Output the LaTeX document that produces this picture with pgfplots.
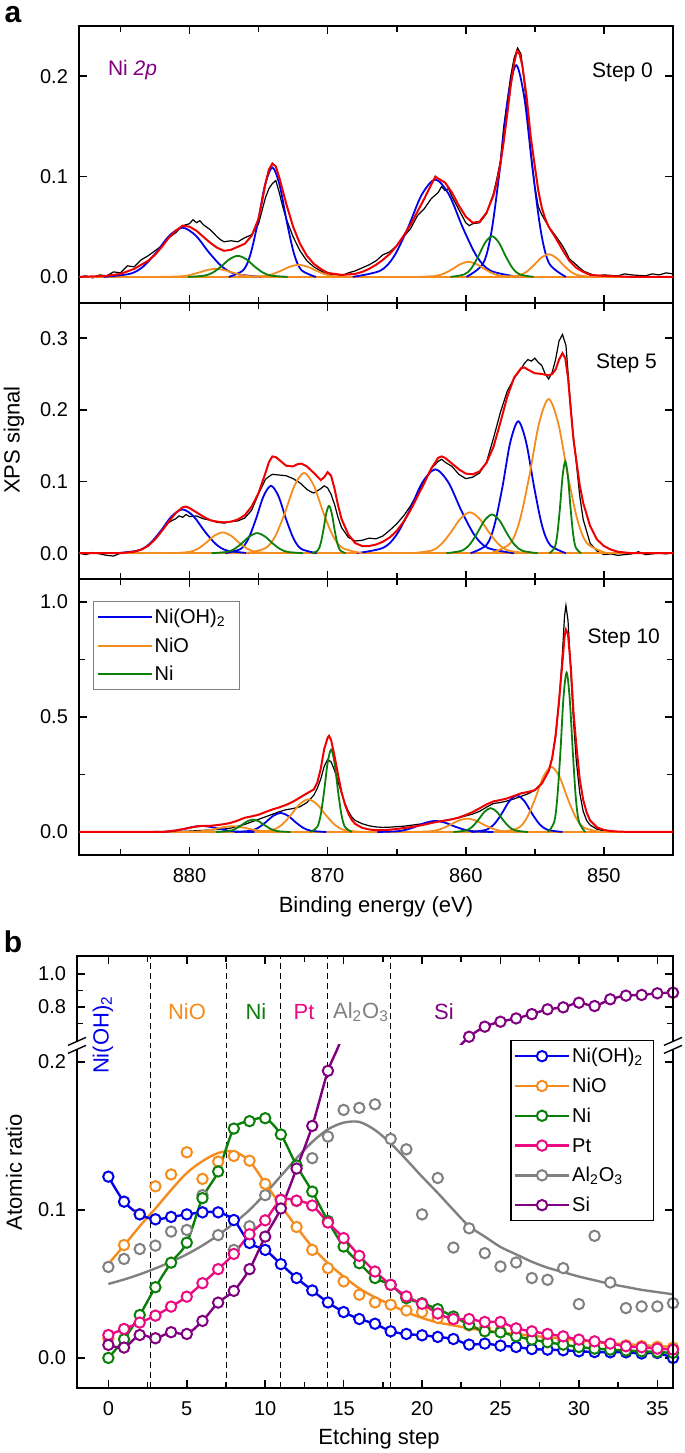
\documentclass[border=0pt]{standalone}
\usepackage{fontspec}
\setmainfont{Liberation Sans}
\usepackage{pgfplots}
\usepackage{pgfplotstable}
\pgfplotsset{compat=1.18}

\definecolor{cblue}{RGB}{0,0,235}
\definecolor{corange}{RGB}{245,140,30}
\definecolor{cgreen}{RGB}{10,128,10}
\definecolor{cpink}{RGB}{235,10,130}
\definecolor{cgray}{RGB}{128,128,128}
\definecolor{cpurple}{RGB}{128,0,128}
\definecolor{cred}{RGB}{240,0,0}

\pgfplotsset{
  base/.style={scale only axis, clip=true,
    axis line style={line width=0.8pt},
    every tick/.style={black, line width=0.8pt},
    tick align=inside, major tick length=4pt, minor tick length=3pt,
    tick label style={font=\fontsize{10}{12}\selectfont},
    /pgf/number format/assume math mode=true,
    yticklabel style={xshift=-2pt, /pgf/number format/.cd, fixed, fixed zerofill, precision=1},
    xticklabel style={yshift=-3.4pt}},
  xps/.style={base, width=297pt, height=138pt, x dir=reverse,
    xmin=845, xmax=888, xtick={850,860,870,880}, minor xtick={845,855,865,875,885}},
  bl/.style={cblue, smooth, line width=0.9pt, forget plot},
  or/.style={corange, smooth, line width=0.9pt, forget plot},
  gr/.style={cgreen, smooth, line width=0.9pt, forget plot},
  fitred/.style={cred, line width=1pt, forget plot},
  raw/.style={black, line width=0.6pt, forget plot},
  bpan/.style={base, width=298pt, xmin=-2, xmax=36, xtick={0,5,...,35},
    minor xtick={2.5,7.5,...,32.5}, axis line style={draw=none}},
  ser/.style={#1, smooth, line width=1.2pt, mark=*, mark size=2.6pt,
    mark options={fill=white, line width=1pt, solid}},
  pts/.style={#1, only marks, mark=*, mark size=2.6pt,
    mark options={fill=white, line width=1pt, solid}},
  vl/.style={black, line width=0.5pt, dash pattern=on 3pt off 2pt, forget plot},
}

% Panel b data
\pgfplotstableread{
step nioh nio ni pt al si
0 0.1225 0.013 0.0 0.0155 0.0615 0.0088
1 0.1056 0.0763 0.0126 0.0196 0.0669 0.007
2 0.097 0.0973 0.029 0.0239 0.0736 0.0155
3 0.0937 0.116 0.0478 0.0286 0.0759 0.0133
4 0.0953 0.124 0.0644 0.0347 0.0854 0.0174
5 0.097 0.139 0.0779 0.0414 0.0865 0.0162
6 0.0984 0.121 0.108 0.0505 0.110 0.025
7 0.0984 0.1327 0.126 0.060 0.083 0.0374
8 0.0932 0.1365 0.155 0.0703 0.073 0.0453
9 0.0777 0.1333 0.160 0.0836 0.089 0.060
10 0.073 0.1176 0.162 0.093 0.110 0.082
11 0.0634 0.104 0.151 0.1068 0.107 0.101
12 0.054 0.0885 0.13 0.1063 0.106 0.128
13 0.0456 0.073 0.1124 0.103 0.135 0.1568
14 0.0375 0.0607 0.0925 0.0915 0.1496 0.194
15 0.031 0.0517 0.0753 0.081 0.1676 0.222
16 0.0263 0.0427 0.064 0.069 0.169 0.29
17 0.0231 0.0375 0.054 0.0584 0.1714 0.35
18 0.018 0.036 0.0494 0.0494 0.148 0.40
19 0.0162 0.0321 0.0404 0.0416 0.141 0.44
20 0.0153 0.031 0.037 0.0366 0.097 0.47
21 0.0142 0.027 0.033 0.030 0.1216 0.50
22 0.0128 0.026 0.028 0.0263 0.0746 0.53
23 0.009 0.022 0.0225 0.0263 0.0876 0.62
24 0.0097 0.020 0.018 0.0243 0.0708 0.681
25 0.0083 0.018 0.0173 0.0243 0.0618 0.711
26 0.0074 0.016 0.0146 0.020 0.0645 0.731
27 0.006 0.015 0.0124 0.018 0.054 0.757
28 0.0056 0.013 0.0106 0.0162 0.0528 0.786
29 0.0052 0.012 0.009 0.0146 0.0607 0.798
30 0.0045 0.011 0.0074 0.0124 0.0364 0.826
31 0.004 0.010 0.0063 0.0112 0.0825 0.806
32 0.0038 0.009 0.0056 0.0097 0.051 0.847
33 0.0038 0.0085 0.005 0.0079 0.0337 0.869
34 0.003 0.008 0.0045 0.0072 0.0348 0.873
35 0.0034 0.0075 0.004 0.0063 0.0348 0.883
36 0.0 0.007 0.0034 0.0056 0.037 0.887
}\dataB

\pgfplotstableread{
step niofit alfit
0 0.0635 0.050
1 0.076 0.053
2 0.089 0.0565
3 0.101 0.0605
4 0.1135 0.065
5 0.125 0.070
6 0.133 0.076
7 0.1385 0.083
8 0.1395 0.091
9 0.133 0.100
10 0.118 0.111
11 0.103 0.123
12 0.0885 0.135
13 0.075 0.146
14 0.064 0.1545
15 0.055 0.159
16 0.047 0.1595
17 0.041 0.154
18 0.036 0.145
19 0.031 0.134
20 0.027 0.1225
21 0.024 0.1115
22 0.022 0.100
23 0.020 0.089
24 0.0185 0.082
25 0.0172 0.075
26 0.016 0.070
27 0.015 0.065
28 0.014 0.061
29 0.013 0.058
30 0.012 0.055
31 0.011 0.0525
32 0.010 0.050
33 0.0093 0.048
34 0.0086 0.046
35 0.008 0.0445
36 0.0075 0.043
}\fitB

\begin{document}
\begin{tikzpicture}
\useasboundingbox (0,0) rectangle (342.5pt,726.5pt);

% ---------- Step 0 ----------
\begin{axis}[xps, at={(39.5pt,575pt)}, anchor=south west, height=138.5pt,
  ymin=-0.026, ymax=0.25, ytick={0,0.1,0.2}, xticklabels={}]
\addplot[raw] coordinates {(888,0.000) (887.5,0.001) (887,-0.001) (886.5,0.002) (886,0.001) (885.5,0.005) (885,0.004) (884.5,0.011) (884,0.010) (883.5,0.017) (883,0.021) (882.5,0.026) (882,0.031) (881.5,0.039) (881,0.044) (880.5,0.051) (880,0.053) (879.75,0.057) (879.5,0.054) (879.25,0.056) (879,0.052) (878.5,0.047) (878,0.040) (877.75,0.037) (877.5,0.035) (877,0.036) (876.5,0.035) (876,0.039) (875.5,0.042) (875,0.053) (874.75,0.066) (874.5,0.079) (874.25,0.088) (874,0.093) (873.75,0.096) (873.5,0.084) (873.25,0.070) (873,0.058) (872.5,0.040) (872,0.026) (871.5,0.016) (871,0.010) (870.5,0.006) (870,0.002) (869.5,0.003) (869,0.001) (868.5,0.004) (868,0.006) (867.5,0.009) (867,0.012) (866.5,0.016) (866,0.022) (865.5,0.025) (865,0.031) (864.5,0.040) (864,0.048) (863.5,0.061) (863,0.068) (862.5,0.078) (862,0.084) (861.75,0.090) (861.5,0.086) (861.25,0.088) (861,0.080) (860.5,0.067) (860,0.054) (859.75,0.051) (859.5,0.053) (859,0.054) (858.5,0.063) (858,0.083) (857.75,0.098) (857.5,0.115) (857.25,0.150) (857,0.175) (856.75,0.200) (856.5,0.218) (856.25,0.228) (856,0.222) (855.75,0.192) (855.5,0.155) (855.25,0.120) (855,0.090) (854.75,0.070) (854.5,0.062) (854,0.050) (853.5,0.041) (853,0.031) (852.75,0.025) (852.5,0.018) (852,0.012) (851.5,0.006) (851,0.003) (850.5,0.001) (850,0.002) (849,0.001) (848.5,0.003) (848,0.002) (847,0.001) (846.5,0.003) (846,0.002) (845.5,0.004) (845,0.003)};
\addplot[bl] coordinates {(845,0) (888,0)};
\addplot[gr] coordinates {(845,0) (888,0)};
\addplot[or] coordinates {(845,0) (888,0)};
\addplot[bl] coordinates {(874.8,0) (876.7,0.0031) (877.65,0.0103) (878.6,0.0245) (879.55,0.0412) (880.5,0.049) (881.45,0.0412) (882.4,0.0245) (883.35,0.0103) (884.3,0.0031) (886.2,0)};
\addplot[bl] coordinates {(870.85,0) (871.9,0.0068) (872.43,0.0229) (872.95,0.0545) (873.48,0.0917) (874,0.109) (874.53,0.0917) (875.05,0.0545) (875.58,0.0229) (876.1,0.0068) (877.15,0)};
\addplot[bl] coordinates {(856.2,0) (858.2,0.0061) (859.2,0.0204) (860.2,0.0485) (861.2,0.0816) (862.2,0.097) (863.2,0.0816) (864.2,0.0485) (865.2,0.0204) (866.2,0.0061) (868.2,0)};
\addplot[bl] coordinates {(852.75,0) (853.95,0.0132) (854.55,0.0443) (855.15,0.1055) (855.75,0.1775) (856.35,0.211) (856.95,0.1775) (857.55,0.1055) (858.15,0.0443) (858.75,0.0132) (859.95,0)};
\addplot[or] coordinates {(874.2,0) (875.5,0.0005) (876.15,0.0017) (876.8,0.004) (877.45,0.0067) (878.1,0.008) (878.75,0.0067) (879.4,0.004) (880.05,0.0017) (880.7,0.0005) (882,0)};
\addplot[or] coordinates {(868.2,0) (869.5,0.0008) (870.15,0.0025) (870.8,0.006) (871.45,0.0101) (872.1,0.012) (872.75,0.0101) (873.4,0.006) (874.05,0.0025) (874.7,0.0008) (876,0)};
\addplot[or] coordinates {(856.2,0) (857.4,0.0009) (858,0.0032) (858.6,0.0075) (859.2,0.0126) (859.8,0.015) (860.4,0.0126) (861,0.0075) (861.6,0.0032) (862.2,0.0009) (863.4,0)};
\addplot[or] coordinates {(850.7,0) (851.8,0.0014) (852.35,0.0047) (852.9,0.0113) (853.45,0.019) (854,0.0226) (854.55,0.019) (855.1,0.0113) (855.65,0.0047) (856.2,0.0014) (857.3,0)};
\addplot[gr] coordinates {(872.9,0) (874.1,0.0013) (874.7,0.0044) (875.3,0.0105) (875.9,0.0177) (876.5,0.021) (877.1,0.0177) (877.7,0.0105) (878.3,0.0044) (878.9,0.0013) (880.1,0)};
\addplot[gr] coordinates {(855.1,0) (856.1,0.0025) (856.6,0.0085) (857.1,0.0203) (857.6,0.0341) (858.1,0.0405) (858.6,0.0341) (859.1,0.0203) (859.6,0.0085) (860.1,0.0025) (861.1,0)};
\addplot[fitred] coordinates {(888,0) (886,0.001) (885,0.003) (884,0.008) (883,0.016) (882.5,0.022) (882,0.030) (881.5,0.039) (881,0.046) (880.5,0.051) (880,0.050) (879.5,0.046) (879,0.040) (878.5,0.034) (878,0.029) (877.5,0.026) (877,0.027) (876.5,0.030) (876,0.033) (875.5,0.041) (875,0.058) (874.75,0.075) (874.5,0.093) (874.25,0.107) (874,0.113) (873.75,0.110) (873.5,0.099) (873.25,0.086) (873,0.073) (872.5,0.050) (872,0.033) (871.5,0.021) (871,0.013) (870.5,0.008) (870,0.004) (869,0.002) (868,0.003) (867.5,0.005) (867,0.008) (866.5,0.012) (866,0.017) (865.5,0.023) (865,0.031) (864.5,0.041) (864,0.052) (863.5,0.065) (863,0.078) (862.5,0.092) (862.2,0.100) (862,0.098) (861.5,0.094) (861,0.084) (860.5,0.071) (860,0.060) (859.5,0.054) (859,0.055) (858.5,0.064) (858,0.081) (857.75,0.094) (857.5,0.112) (857.25,0.135) (857,0.162) (856.75,0.190) (856.5,0.213) (856.3,0.225) (856.1,0.222) (855.9,0.210) (855.6,0.180) (855.3,0.140) (855,0.110) (854.75,0.086) (854.5,0.069) (854.25,0.058) (854,0.050) (853.5,0.039) (853,0.027) (852.5,0.016) (852,0.009) (851.5,0.005) (851,0.002) (850,0.001) (848,0) (845,0)};
\end{axis}

% ---------- Step 5 ----------
\begin{axis}[xps, at={(39.5pt,437pt)}, anchor=south west,
  ymin=-0.036, ymax=0.349, ytick={0,0.1,0.2,0.3}, xticklabels={}]
\addplot[raw] coordinates {(888,0.000) (887.5,-0.002) (887,0.001) (886.5,-0.001) (886,-0.003) (885.5,-0.004) (885,0.000) (884.5,0.000) (884,0.002) (883.5,0.005) (883,0.010) (882.5,0.020) (882,0.032) (881.5,0.043) (881,0.048) (880.75,0.052) (880.5,0.050) (880.25,0.054) (880,0.051) (879.5,0.052) (879,0.048) (878.5,0.046) (878,0.043) (877.5,0.042) (877,0.044) (876.5,0.045) (876,0.049) (875.5,0.060) (875,0.083) (874.75,0.093) (874.5,0.103) (874.25,0.107) (874,0.110) (873.5,0.109) (873,0.108) (872.5,0.104) (872,0.098) (871.5,0.089) (871.25,0.086) (871,0.084) (870.75,0.087) (870.5,0.090) (870.25,0.094) (870,0.091) (869.75,0.082) (869.5,0.068) (869.25,0.050) (869,0.036) (868.5,0.022) (868,0.017) (867.5,0.018) (867,0.021) (866.5,0.020) (866,0.024) (865.5,0.032) (865,0.041) (864.5,0.052) (864,0.066) (863.5,0.083) (863,0.100) (862.5,0.118) (862,0.128) (861.75,0.131) (861.5,0.127) (861,0.121) (860.5,0.110) (860,0.104) (859.5,0.106) (859,0.112) (858.5,0.127) (858,0.160) (857.5,0.196) (857,0.226) (856.5,0.244) (856,0.257) (855.75,0.265) (855.5,0.270) (855.25,0.268) (855,0.272) (854.75,0.266) (854.5,0.262) (854.25,0.250) (854,0.243) (853.75,0.252) (853.5,0.270) (853.25,0.296) (853,0.305) (852.75,0.290) (852.5,0.228) (852.25,0.170) (852,0.126) (851.75,0.080) (851.5,0.047) (851,0.014) (850.5,0.003) (850,-0.002) (849.5,-0.001) (849,-0.003) (848,-0.001) (847.5,0.002) (847,-0.002) (846,0.000) (845.5,-0.001) (845,0.001)};
\addplot[bl] coordinates {(845,0) (888,0)};
\addplot[gr] coordinates {(845,0) (888,0)};
\addplot[or] coordinates {(845,0) (888,0)};
\addplot[bl] coordinates {(875.7,0) (877.3,0.0038) (878.1,0.0128) (878.9,0.0305) (879.7,0.0513) (880.5,0.061) (881.3,0.0513) (882.1,0.0305) (882.9,0.0128) (883.7,0.0038) (885.3,0)};
\addplot[bl] coordinates {(870.8,0) (871.9,0.0059) (872.45,0.0197) (873,0.047) (873.55,0.0791) (874.1,0.094) (874.65,0.0791) (875.2,0.047) (875.75,0.0197) (876.3,0.0059) (877.4,0)};
\addplot[bl] coordinates {(856.5,0) (858.4,0.0073) (859.35,0.0246) (860.3,0.0585) (861.25,0.0984) (862.2,0.117) (863.15,0.0984) (864.1,0.0585) (865.05,0.0246) (866,0.0073) (867.9,0)};
\addplot[bl] coordinates {(852.75,0) (853.9,0.0115) (854.48,0.0386) (855.05,0.092) (855.63,0.1547) (856.2,0.184) (856.78,0.1547) (857.35,0.092) (857.93,0.0386) (858.5,0.0115) (859.65,0)};
\addplot[or] coordinates {(874,0) (875.2,0.0018) (875.8,0.0061) (876.4,0.0145) (877,0.0244) (877.6,0.029) (878.2,0.0244) (878.8,0.0145) (879.4,0.0061) (880,0.0018) (881.2,0)};
\addplot[or] coordinates {(867.5,0) (868.9,0.007) (869.6,0.0235) (870.3,0.056) (871,0.0942) (871.7,0.112) (872.4,0.0942) (873.1,0.056) (873.8,0.0235) (874.5,0.007) (875.9,0)};
\addplot[or] coordinates {(855.5,0) (856.9,0.0036) (857.6,0.012) (858.3,0.0285) (859,0.0479) (859.7,0.057) (860.4,0.0479) (861.1,0.0285) (861.8,0.012) (862.5,0.0036) (863.9,0)};
\addplot[or] coordinates {(849.8,0) (851.2,0.0134) (851.9,0.0452) (852.6,0.1075) (853.3,0.1808) (854,0.215) (854.7,0.1808) (855.4,0.1075) (856.1,0.0452) (856.8,0.0134) (858.2,0)};
\addplot[gr] coordinates {(871.8,0) (872.9,0.0018) (873.45,0.0059) (874,0.014) (874.55,0.0235) (875.1,0.028) (875.65,0.0235) (876.2,0.014) (876.75,0.0059) (877.3,0.0018) (878.4,0)};
\addplot[gr] coordinates {(868.7,0) (869.1,0.0041) (869.3,0.0139) (869.5,0.033) (869.7,0.0555) (869.9,0.066) (870.1,0.0555) (870.3,0.033) (870.5,0.0139) (870.7,0.0041) (871.1,0)};
\addplot[gr] coordinates {(854.8,0) (855.9,0.0034) (856.45,0.0113) (857,0.027) (857.55,0.0454) (858.1,0.054) (858.65,0.0454) (859.2,0.027) (859.75,0.0113) (860.3,0.0034) (861.4,0)};
\addplot[gr] coordinates {(851.66,0) (852.04,0.008) (852.23,0.0269) (852.42,0.064) (852.61,0.1076) (852.8,0.128) (852.99,0.1076) (853.18,0.064) (853.37,0.0269) (853.56,0.008) (853.94,0)};
\addplot[fitred] coordinates {(888,0) (885,0) (884,0.002) (883.5,0.005) (883,0.010) (882.5,0.019) (882,0.031) (881.5,0.044) (881,0.056) (880.5,0.064) (880.25,0.065) (880,0.063) (879.5,0.057) (879,0.051) (878.5,0.046) (878,0.044) (877.5,0.043) (877,0.044) (876.5,0.047) (876,0.053) (875.5,0.065) (875,0.084) (874.5,0.112) (874.25,0.127) (874,0.135) (873.75,0.134) (873.5,0.130) (873,0.122) (872.5,0.121) (872.2,0.124) (871.9,0.125) (871.5,0.121) (871,0.112) (870.5,0.102) (870.25,0.106) (870,0.113) (869.75,0.108) (869.5,0.090) (869.25,0.067) (869,0.048) (868.5,0.026) (868,0.014) (867.5,0.010) (867,0.010) (866.5,0.012) (866,0.016) (865.5,0.022) (865,0.031) (864.5,0.044) (864,0.060) (863.5,0.079) (863,0.098) (862.5,0.118) (862,0.133) (861.75,0.135) (861.5,0.133) (861,0.125) (860.5,0.117) (860,0.111) (859.5,0.110) (859,0.114) (858.5,0.126) (858,0.148) (857.5,0.182) (857,0.218) (856.5,0.245) (856,0.258) (855.75,0.259) (855.5,0.256) (855,0.251) (854.5,0.250) (854,0.248) (853.75,0.250) (853.5,0.256) (853.25,0.270) (853,0.279) (852.8,0.272) (852.6,0.245) (852.4,0.200) (852.2,0.158) (852,0.130) (851.75,0.095) (851.5,0.070) (851,0.038) (850.5,0.019) (850,0.010) (849.5,0.005) (849,0.002) (848,0) (845,0)};
\end{axis}

% ---------- Step 10 ----------
\begin{axis}[xps, at={(39.5pt,299pt)}, anchor=south west,
  ymin=-0.1, ymax=1.1, ytick={0,0.5,1}, minor ytick={0.25,0.75},
  legend cell align=left,
  legend image code/.code={\draw[#1] (0pt,0pt) -- (27pt,0pt);},
  legend style={at={(0.0236,0.920)}, anchor=north west, draw=gray, line width=0.6pt,
    font=\fontsize{10}{12}\selectfont, row sep=2.75pt, inner xsep=1.5pt, inner ysep=2pt,
    nodes={inner sep=1pt}}]
\addlegendimage{cblue, line width=1pt}\addlegendentry{\rule[-3pt]{0pt}{11pt}\makebox[40pt][l]{Ni(OH)\textsubscript{2}}}
\addlegendimage{corange, line width=1pt}\addlegendentry{\rule[-3pt]{0pt}{11pt}\makebox[40pt][l]{NiO}}
\addlegendimage{cgreen, line width=1pt}\addlegendentry{\rule[-3pt]{0pt}{11pt}\makebox[40pt][l]{Ni}}
\addplot[raw] coordinates {(888,0.000) (886,-0.001) (884,0.001) (882,0.000) (881,0.001) (880,0.004) (879,0.007) (878,0.011) (877.5,0.013) (877,0.017) (876.5,0.025) (876,0.033) (875.5,0.044) (875,0.055) (874.5,0.066) (874,0.077) (873.5,0.088) (873,0.097) (872.5,0.102) (872,0.110) (871.5,0.128) (871,0.160) (870.75,0.190) (870.5,0.230) (870.25,0.285) (870,0.315) (869.75,0.305) (869.5,0.268) (869.25,0.220) (869,0.170) (868.75,0.125) (868.5,0.090) (868.25,0.065) (868,0.050) (867.5,0.036) (867,0.027) (866.5,0.022) (866,0.020) (865.5,0.021) (865,0.023) (864.5,0.025) (864,0.029) (863,0.037) (862,0.046) (861.5,0.050) (861,0.056) (860.5,0.062) (860,0.070) (859.5,0.078) (859,0.090) (858.5,0.108) (858,0.124) (857.5,0.128) (857,0.135) (856.5,0.144) (856,0.155) (855.5,0.166) (855,0.182) (854.5,0.212) (854,0.265) (853.75,0.320) (853.5,0.410) (853.25,0.560) (853,0.780) (852.85,0.940) (852.75,0.985) (852.6,0.920) (852.4,0.700) (852.2,0.480) (852,0.310) (851.75,0.170) (851.5,0.090) (851.25,0.050) (851,0.030) (850.5,0.012) (850,0.005) (849,0.001) (848,0.000) (846,0.001) (845,0.000)};
\addplot[bl] coordinates {(845,0) (888,0)};
\addplot[gr] coordinates {(845,0) (888,0)};
\addplot[or] coordinates {(845,0) (888,0)};
\addplot[bl] coordinates {(875.2,0) (876.5,0.0016) (877.15,0.0055) (877.8,0.013) (878.45,0.0219) (879.1,0.026) (879.75,0.0219) (880.4,0.013) (881.05,0.0055) (881.7,0.0016) (883,0)};
\addplot[bl] coordinates {(870.1,0) (871.2,0.0052) (871.75,0.0174) (872.3,0.0415) (872.85,0.0698) (873.4,0.083) (873.95,0.0698) (874.5,0.0415) (875.05,0.0174) (875.6,0.0052) (876.7,0)};
\addplot[bl] coordinates {(858,0) (859.4,0.003) (860.1,0.0101) (860.8,0.024) (861.5,0.0404) (862.2,0.048) (862.9,0.0404) (863.6,0.024) (864.3,0.0101) (865,0.003) (866.4,0)};
\addplot[bl] coordinates {(853,0) (854.1,0.0099) (854.65,0.0334) (855.2,0.0795) (855.75,0.1337) (856.3,0.159) (856.85,0.1337) (857.4,0.0795) (857.95,0.0334) (858.5,0.0099) (859.6,0)};
\addplot[or] coordinates {(873,0) (874.3,0.0016) (874.95,0.0053) (875.6,0.0125) (876.25,0.021) (876.9,0.025) (877.55,0.021) (878.2,0.0125) (878.85,0.0053) (879.5,0.0016) (880.8,0)};
\addplot[or] coordinates {(867.5,0) (868.8,0.0089) (869.45,0.0298) (870.1,0.071) (870.75,0.1194) (871.4,0.142) (872.05,0.1194) (872.7,0.071) (873.35,0.0298) (874,0.0089) (875.3,0)};
\addplot[or] coordinates {(856,0) (857.3,0.0036) (857.95,0.0122) (858.6,0.029) (859.25,0.0488) (859.9,0.058) (860.55,0.0488) (861.2,0.029) (861.85,0.0122) (862.5,0.0036) (863.8,0)};
\addplot[or] coordinates {(850.2,0) (851.4,0.0177) (852,0.0594) (852.6,0.1415) (853.2,0.238) (853.8,0.283) (854.4,0.238) (855,0.1415) (855.6,0.0594) (856.2,0.0177) (857.4,0)};
\addplot[gr] coordinates {(872.7,0) (873.6,0.0034) (874.05,0.0113) (874.5,0.027) (874.95,0.0454) (875.4,0.054) (875.85,0.0454) (876.3,0.027) (876.75,0.0113) (877.2,0.0034) (878.1,0)};
\addplot[gr] coordinates {(868.25,0) (868.75,0.0224) (869,0.0752) (869.25,0.179) (869.5,0.3011) (869.75,0.358) (870,0.3011) (870.25,0.179) (870.5,0.0752) (870.75,0.0224) (871.25,0)};
\addplot[gr] coordinates {(855.5,0) (856.4,0.0065) (856.85,0.0218) (857.3,0.052) (857.75,0.0875) (858.2,0.104) (858.65,0.0875) (859.1,0.052) (859.55,0.0218) (860,0.0065) (860.9,0)};
\addplot[gr] coordinates {(851.35,0) (851.8,0.0433) (852.03,0.1455) (852.25,0.3465) (852.48,0.5828) (852.7,0.693) (852.93,0.5828) (853.15,0.3465) (853.38,0.1455) (853.6,0.0433) (854.05,0)};
\addplot[fitred] coordinates {(888,0) (882,0) (881.5,0.003) (881,0.007) (880.5,0.012) (880,0.018) (879.5,0.024) (879,0.027) (878.5,0.027) (878,0.030) (877.5,0.034) (877,0.040) (876.5,0.050) (876,0.062) (875.5,0.068) (875,0.075) (874.5,0.087) (874,0.098) (873.5,0.107) (873,0.118) (872.5,0.132) (872,0.150) (871.5,0.168) (871,0.185) (870.75,0.215) (870.5,0.275) (870.25,0.360) (870,0.410) (869.9,0.418) (869.75,0.400) (869.5,0.330) (869.25,0.250) (869,0.175) (868.75,0.120) (868.5,0.080) (868.25,0.052) (868,0.035) (867.5,0.018) (867,0.011) (866.5,0.008) (866,0.008) (865.5,0.010) (865,0.013) (864.5,0.017) (864,0.021) (863.5,0.026) (863,0.032) (862.5,0.039) (862,0.045) (861.5,0.050) (861,0.055) (860.5,0.063) (860,0.074) (859.5,0.087) (859,0.103) (858.5,0.120) (858,0.133) (857.5,0.139) (857,0.146) (856.5,0.157) (856,0.168) (855.5,0.174) (855,0.182) (854.5,0.210) (854,0.265) (853.75,0.320) (853.5,0.420) (853.25,0.570) (853,0.740) (852.85,0.850) (852.75,0.880) (852.6,0.860) (852.4,0.720) (852.2,0.520) (852,0.380) (851.75,0.230) (851.5,0.140) (851.25,0.085) (851,0.050) (850.5,0.020) (850,0.009) (849.5,0.004) (849,0.002) (848,0) (845,0)};
\end{axis}

% ---------- Panel b, upper part ----------
\begin{axis}[bpan, at={(38.5pt,204pt)}, anchor=south west, height=44.5pt,
  ymin=0.57, ymax=1.109, ytick={0.8,1.0}, minor ytick={0.7,0.9},
  xtick pos=right, xticklabels={}]
\foreach \v in {2.7,7.5,11,14,18} {\addplot[vl] coordinates {(\v,0) (\v,2)};}
\addplot[ser=cpurple, forget plot] table[x=step, y=si] {\dataB};
\end{axis}

% ---------- Panel b, lower part ----------
\begin{axis}[bpan, at={(38.5pt,32.5pt)}, anchor=south west, height=171.5pt,
  ymin=-0.0203, ymax=0.2115, ytick={0,0.1,0.2}, xtick pos=left,
  legend cell align=left,
  legend image code/.code={\draw[mark repeat=2,mark phase=2,#1] plot coordinates {(0pt,0pt) (13.5pt,0pt) (27pt,0pt)};},
  legend style={at={(0.968,1.0146)}, anchor=north east, draw=black, line width=0.7pt,
    font=\fontsize{10}{12}\selectfont, row sep=3.4pt, inner xsep=1.5pt, inner ysep=2pt,
    nodes={inner sep=1pt}}]
\addlegendimage{ser=cblue}\addlegendentry{\rule[-3pt]{0pt}{11pt}\makebox[38pt][l]{Ni(OH)\textsubscript{2}}}
\addlegendimage{ser=corange}\addlegendentry{\rule[-3pt]{0pt}{11pt}\makebox[38pt][l]{NiO}}
\addlegendimage{ser=cgreen}\addlegendentry{\rule[-3pt]{0pt}{11pt}\makebox[38pt][l]{Ni}}
\addlegendimage{ser=cpink}\addlegendentry{\rule[-3pt]{0pt}{11pt}\makebox[38pt][l]{Pt}}
\addlegendimage{ser=cgray}\addlegendentry{\rule[-3pt]{0pt}{11pt}\makebox[38pt][l]{Al\textsubscript{2}O\textsubscript{3}}}
\addlegendimage{ser=cpurple}\addlegendentry{\rule[-3pt]{0pt}{11pt}\makebox[38pt][l]{Si}}
\foreach \v in {2.7,7.5,11,14,18} {\addplot[vl] coordinates {(\v,-1) (\v,2)};}
\addplot[cgray, smooth, line width=1.2pt, forget plot] table[x=step, y=alfit] {\fitB};
\addplot[pts=cgray, forget plot] table[x=step, y=al] {\dataB};
\addplot[corange, smooth, line width=1.2pt, forget plot] table[x=step, y=niofit] {\fitB};
\addplot[pts=corange, forget plot] table[x=step, y=nio] {\dataB};
\addplot[ser=cblue, forget plot] table[x=step, y=nioh] {\dataB};
\addplot[ser=cgreen, forget plot] table[x=step, y=ni] {\dataB};
\addplot[ser=cpink, forget plot] table[x=step, y=pt] {\dataB};
\addplot[ser=cpurple, forget plot] table[x=step, y=si] {\dataB};
\end{axis}

% frames and break marks of panel b
\draw[line width=0.8pt] (38.5pt,204pt) -- (38.5pt,248.5pt) -- (336.5pt,248.5pt) -- (336.5pt,204pt);
\draw[line width=0.8pt] (38.5pt,204pt) -- (38.5pt,32.5pt) -- (336.5pt,32.5pt) -- (336.5pt,204pt);
\foreach \xx in {38.5pt,336.5pt} {
  \fill[white] ([xshift=-4.5pt]\xx,199.8pt) -- ([xshift=4.5pt]\xx,203.8pt) -- ([xshift=4.5pt]\xx,207.8pt) -- ([xshift=-4.5pt]\xx,203.8pt) -- cycle;
  \draw[line width=0.7pt] ([xshift=-4.5pt]\xx,199.8pt) -- ([xshift=4.5pt]\xx,203.8pt);
  \draw[line width=0.7pt] ([xshift=-4.5pt]\xx,203.8pt) -- ([xshift=4.5pt]\xx,207.8pt);
}

% texts
\node[inner sep=0pt, font=\bfseries\fontsize{15}{17}\selectfont] at (6.5pt,719pt) {a};
\node[inner sep=0pt, font=\bfseries\fontsize{15}{17}\selectfont] at (6.5pt,255.5pt) {b};
\node[inner sep=0pt, rotate=90, font=\fontsize{11}{13}\selectfont] at (7pt,506.5pt) {XPS signal};
\node[font=\fontsize{11}{13}\selectfont] at (188pt,273pt) {Binding energy (eV)};
\node[inner sep=0pt, rotate=90, font=\fontsize{11}{13}\selectfont] at (7pt,140.5pt) {Atomic ratio};
\node[inner sep=0pt, font=\fontsize{11}{13}\selectfont] at (189.5pt,7pt) {Etching step};
\node[anchor=west, text=cpurple, font=\fontsize{10.5}{12}\selectfont] at (50.5pt,691.5pt) {Ni \textit{2p}};
\node[anchor=east, font=\fontsize{10.5}{12}\selectfont] at (330pt,690.5pt) {Step 0};
\node[anchor=east, font=\fontsize{10.5}{12}\selectfont] at (332pt,545pt) {Step 5};
\node[anchor=east, font=\fontsize{10.5}{12}\selectfont] at (333.5pt,407.5pt) {Step 10};
\node[rotate=90, text=cblue, font=\fontsize{11}{13}\selectfont] at (51.5pt,209pt) {Ni(OH)\textsubscript{2}};
\node[text=corange, font=\fontsize{11}{13}\selectfont] at (93.5pt,220.5pt) {NiO};
\node[text=cgreen, font=\fontsize{11}{13}\selectfont] at (128pt,220.5pt) {Ni};
\node[text=cpink, font=\fontsize{11}{13}\selectfont] at (152pt,220.5pt) {Pt};
\node[text=cgray, font=\fontsize{11}{13}\selectfont] at (180.5pt,220.5pt) {Al\textsubscript{2}O\textsubscript{3}};
\node[text=cpurple, font=\fontsize{11}{13}\selectfont] at (222pt,220.5pt) {Si};
\end{tikzpicture}
\end{document}
